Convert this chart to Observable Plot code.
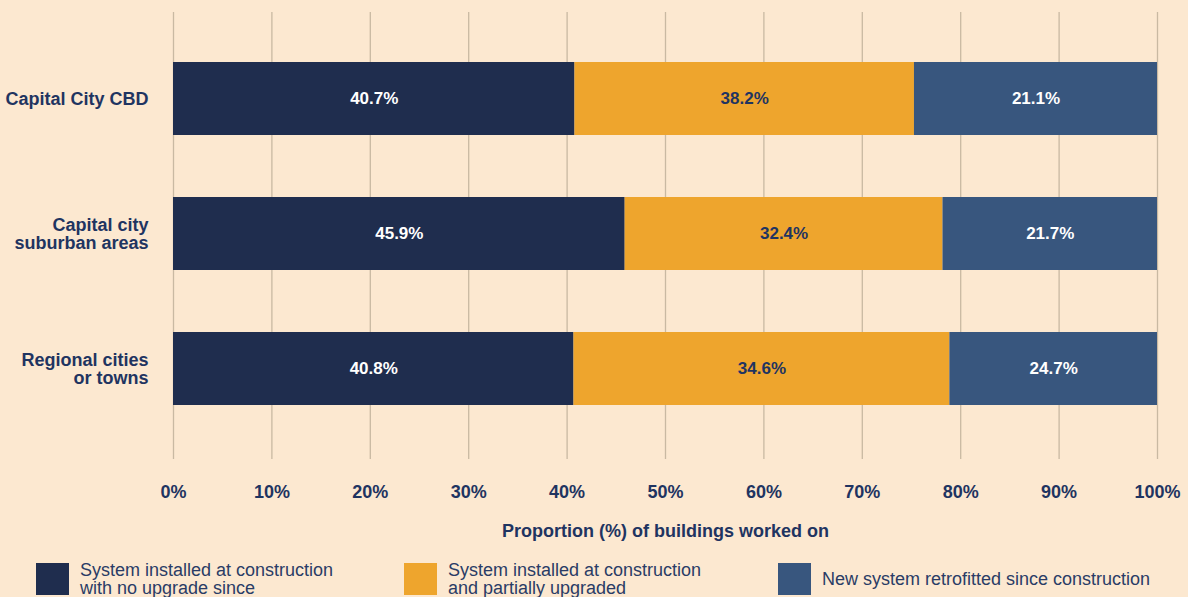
<!DOCTYPE html>
<html>
<head>
<meta charset="utf-8">
<script src="https://cdn.jsdelivr.net/npm/d3@7"></script>
<script src="https://cdn.jsdelivr.net/npm/@observablehq/plot@0.6"></script>
<style>
  body { margin: 0; background: #fce8d0; font-family: "Liberation Sans", Arial, sans-serif; }
  #wrap { position: relative; width: 1188px; height: 597px; overflow: hidden; background: #fce8d0; }
  #chart svg { display: block; }
  .leg { position: absolute; top: 563px; display: flex; align-items: center; height: 32px; }
  .leg .sw { width: 33px; height: 32px; flex: none; }
  .leg .tx { position: absolute; font-size: 18px; line-height: 18px; color: #2a3c66; white-space: nowrap; }
</style>
</head>
<body>
<div id="wrap"><div id="chart"></div><div id="legend"></div></div>
<script>
// Categories (y axis)
const regions = ["Capital City CBD", "Capital city\nsuburban areas", "Regional cities\nor towns"];
// Series (legend order)
const systemTypes = [
  "System installed at construction\nwith no upgrade since",
  "System installed at construction\nand partially upgraded",
  "New system retrofitted since construction"
];
const seriesColors = ["#1f2d4e", "#eea52d", "#38567e"];
// Bar lengths as drawn, per region
const noUpgradeShare      = [40.8, 45.9, 40.7];
const partialUpgradeShare = [34.5, 32.3, 38.2];
const retrofitShare       = [24.7, 21.8, 21.1];
// Labels as printed on the bars
const noUpgradeLabel      = ["40.7%", "45.9%", "40.8%"];
const partialUpgradeLabel = ["38.2%", "32.4%", "34.6%"];
const retrofitLabel       = ["21.1%", "21.7%", "24.7%"];
// Axis
const xTicks = [0, 10, 20, 30, 40, 50, 60, 70, 80, 90, 100];
const xLabel = "Proportion (%) of buildings worked on";

const navy = "#1f3461";
const shares = [noUpgradeShare, partialUpgradeShare, retrofitShare];
const labels = [noUpgradeLabel, partialUpgradeLabel, retrofitLabel];
const rows = [];
regions.forEach((r, i) => {
  systemTypes.forEach((t, j) => {
    rows.push({region: r, type: t, value: shares[j][i], label: labels[j][i], k: j});
  });
});

const chart = Plot.plot({
  width: 1188,
  height: 550,
  marginTop: 12,
  marginBottom: 91,
  marginLeft: 173,
  marginRight: 31,
  style: {background: "transparent", fontFamily: "'Liberation Sans', Arial, sans-serif", color: navy},
  x: {domain: [0, 100], axis: null},
  y: {domain: regions, range: [10.7, 457.3], paddingInner: 0.456, paddingOuter: 0.37, axis: null},
  color: {domain: systemTypes, range: seriesColors},
  marks: [
    Plot.gridX(xTicks, {stroke: "#c9b9a2", strokeOpacity: 1, strokeWidth: 1.3}),
    Plot.barX(rows, {x: "value", y: "region", fill: "type", order: null}),
    Plot.text(rows, Plot.stackX({
      x: "value", y: "region", z: "type", text: "label", order: null,
      fill: d => d.k === 1 ? navy : "#ffffff",
      fontSize: 17, fontWeight: "bold"
    })),
    Plot.axisX(xTicks, {
      tickSize: 0, tickPadding: 26, tickFormat: d => d + "%",
      fontSize: 18, fontWeight: "bold", label: null
    }),
    Plot.axisY({
      tickSize: 0, tickPadding: 25, fontSize: 18, fontWeight: "bold", label: null
    }),
    Plot.text([xLabel], {
      text: d => d, frameAnchor: "bottom", dy: 77,
      fontSize: 18, fontWeight: "bold", fill: navy
    })
  ]
});
document.getElementById("chart").appendChild(chart);

// Legend
const legendX = [36, 404, 778];
const legend = document.getElementById("legend");
systemTypes.forEach((t, j) => {
  const item = document.createElement("div");
  item.className = "leg";
  item.style.left = legendX[j] + "px";
  const sw = document.createElement("div");
  sw.className = "sw";
  sw.style.background = seriesColors[j];
  item.appendChild(sw);
  const tx = document.createElement("div");
  tx.className = "tx";
  tx.style.left = "44px";
  tx.innerHTML = t.split("\n").join("<br>");
  item.appendChild(tx);
  legend.appendChild(item);
});
</script>
</body>
</html>
